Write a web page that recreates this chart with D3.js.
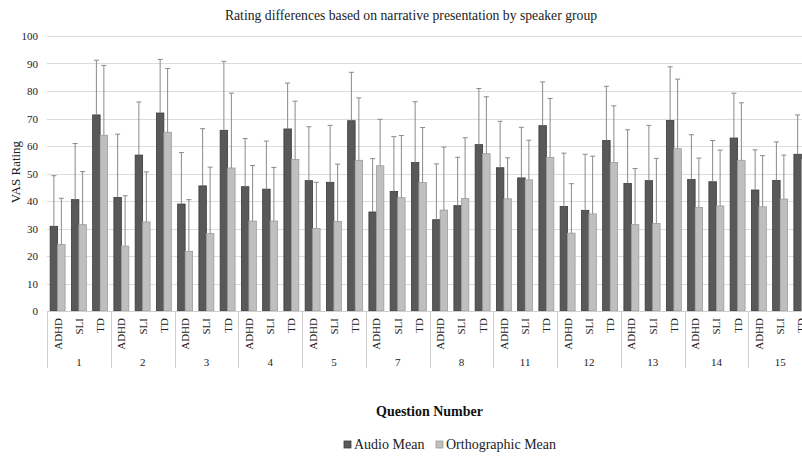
<!DOCTYPE html>
<html>
<head>
<meta charset="utf-8">
<script src="https://cdn.jsdelivr.net/npm/d3@7"></script>
<style>
  body { margin: 0; background: #fff; overflow: hidden; }
  svg { display: block; font-family: "Liberation Serif", "DejaVu Serif", serif; }
</style>
</head>
<body>
<svg id="chart" width="802" height="456"></svg>
<script>
// question numbers and speaker groups
var questions = ["1", "2", "3", "4", "5", "7", "8", "11", "12", "13", "14", "15"];
var groups = ["ADHD", "SLI", "TD"];
var seriesNames = ["Audio Mean", "Orthographic Mean"];

// means, in question order, ADHD/SLI/TD inside each question
var audioMean = [30.8, 40.5, 71.3, 41.3, 56.7, 72.0, 38.9, 45.5, 65.7, 45.2, 44.3, 66.2,
                 47.4, 46.8, 69.2, 36.0, 43.5, 54.0, 33.2, 38.3, 60.5, 52.1, 48.4, 67.4,
                 38.0, 36.6, 62.0, 46.4, 47.4, 69.3, 47.8, 47.0, 62.9, 44.0, 47.5, 57.0];
var orthoMean = [24.2, 31.4, 63.9, 23.6, 32.4, 65.0, 21.7, 28.2, 52.0, 32.7, 32.7, 55.1,
                 30.0, 32.6, 54.8, 52.8, 41.2, 46.7, 36.7, 40.9, 57.2, 40.8, 47.7, 55.8,
                 28.3, 35.3, 54.0, 31.4, 31.8, 59.0, 37.7, 38.2, 54.8, 37.9, 40.7, 55.2];
// standard deviations (upper error bars)
var audioSD = [18.4, 20.4, 19.9, 23.0, 19.3, 19.5, 18.7, 20.8, 25.1, 17.5, 17.5, 16.7,
               19.6, 20.7, 17.6, 19.4, 19.9, 22.1, 20.3, 17.6, 20.4, 16.9, 18.4, 15.9,
               19.4, 20.4, 19.7, 19.5, 20.1, 19.5, 16.3, 15.0, 16.3, 14.6, 14.0, 14.3];
var orthoSD = [16.8, 19.3, 25.4, 18.3, 18.2, 23.2, 18.8, 24.1, 27.2, 20.2, 19.5, 21.2,
               16.8, 20.8, 22.7, 16.9, 22.6, 20.0, 22.9, 22.1, 20.7, 14.9, 14.4, 21.5,
               18.0, 21.0, 20.6, 20.4, 23.7, 25.3, 17.9, 20.3, 20.9, 18.6, 16.0, 20.3];
var yTicks = [0, 10, 20, 30, 40, 50, 60, 70, 80, 90, 100];

var colors = { "Audio Mean": "#595959", "Orthographic Mean": "#bfbfbf" };
var strokes = { "Audio Mean": "#3c3c3c", "Orthographic Mean": "#9c9c9c" };

var svg = d3.select("#chart");

/* ---------- scales ---------- */
// plot runs past the right edge of the window, like the original
var plotLeft = 47, plotRight = 812, plotTop = 36, plotBottom = 311;

var cats = [];
questions.forEach(function(q) {
  groups.forEach(function(g) { cats.push(q + "|" + g); });
});

var x = d3.scaleBand().domain(cats).range([plotLeft, plotRight]).padding(0);
var xq = d3.scaleBand().domain(questions).range([plotLeft, plotRight]).padding(0);
var xs = d3.scaleBand().domain(seriesNames).range([0, x.bandwidth()]).paddingInner(0).paddingOuter(0.42);
var y = d3.scaleLinear().domain([0, 100]).range([plotBottom, plotTop]);

var rows = cats.map(function(c, i) {
  return {
    cat: c,
    values: [
      { s: "Audio Mean", v: audioMean[i], sd: audioSD[i] },
      { s: "Orthographic Mean", v: orthoMean[i], sd: orthoSD[i] }
    ]
  };
});

/* ---------- grid + y axis ---------- */
svg.append("g").selectAll("line").data(yTicks).enter().append("line")
  .attr("x1", plotLeft).attr("x2", plotRight)
  .attr("y1", function(d) { return Math.round(y(d)) + 0.5; })
  .attr("y2", function(d) { return Math.round(y(d)) + 0.5; })
  .attr("stroke", "#dcdcdc").attr("stroke-width", 1);

var yAxis = svg.append("g").attr("transform", "translate(" + plotLeft + ",0)")
  .call(d3.axisLeft(y).tickValues(yTicks).tickSize(0).tickPadding(9));
yAxis.select(".domain").remove();
yAxis.selectAll("text").attr("font-size", 11).attr("fill", "#222")
  .attr("font-family", "Liberation Serif");

/* ---------- bars ---------- */
var catG = svg.append("g").selectAll("g").data(rows).enter().append("g")
  .attr("transform", function(d) { return "translate(" + x(d.cat) + ",0)"; });

catG.selectAll("rect").data(function(d) { return d.values; }).enter().append("rect")
  .attr("x", function(d) { return xs(d.s); })
  .attr("width", xs.bandwidth())
  .attr("y", function(d) { return y(d.v); })
  .attr("height", function(d) { return y(0) - y(d.v); })
  .attr("fill", function(d) { return colors[d.s]; })
  .attr("stroke", function(d) { return strokes[d.s]; })
  .attr("stroke-width", 0.8);

// error bars, upper half only
var err = catG.selectAll("g.err").data(function(d) { return d.values; }).enter().append("g")
  .attr("class", "err")
  .attr("stroke", "#8a8a8a").attr("stroke-width", 1);
err.append("line")
  .attr("x1", function(d) { return xs(d.s) + xs.bandwidth() / 2; })
  .attr("x2", function(d) { return xs(d.s) + xs.bandwidth() / 2; })
  .attr("y1", function(d) { return y(d.v); })
  .attr("y2", function(d) { return y(d.v + d.sd); });
err.append("line")
  .attr("x1", function(d) { return xs(d.s) + xs.bandwidth() / 2 - 2.5; })
  .attr("x2", function(d) { return xs(d.s) + xs.bandwidth() / 2 + 2.5; })
  .attr("y1", function(d) { return y(d.v + d.sd); })
  .attr("y2", function(d) { return y(d.v + d.sd); });

/* ---------- x axis: groups + questions ---------- */
svg.append("line").attr("x1", plotLeft).attr("x2", plotRight)
  .attr("y1", plotBottom + 0.5).attr("y2", plotBottom + 0.5)
  .attr("stroke", "#cfcfcf");

var bounds = questions.map(function(q) { return xq(q); }).concat([plotRight]);
svg.append("g").selectAll("line").data(bounds).enter().append("line")
  .attr("x1", function(d) { return Math.round(d) + 0.5; })
  .attr("x2", function(d) { return Math.round(d) + 0.5; })
  .attr("y1", plotBottom).attr("y2", 368)
  .attr("stroke", "#cfcfcf");

svg.append("g").selectAll("text").data(cats).enter().append("text")
  .attr("transform", function(d) {
    return "translate(" + (x(d) + x.bandwidth() / 2 + 4) + ",318) rotate(-90)";
  })
  .attr("text-anchor", "end")
  .attr("font-size", 11).attr("fill", "#222")
  .text(function(d) { return d.split("|")[1]; });

svg.append("g").selectAll("text").data(questions).enter().append("text")
  .attr("x", function(d) { return xq(d) + xq.bandwidth() / 2; })
  .attr("y", 366)
  .attr("text-anchor", "middle")
  .attr("font-size", 11).attr("fill", "#222")
  .text(function(d) { return d; });

/* ---------- titles ---------- */
svg.append("text").attr("x", 411).attr("y", 20)
  .attr("text-anchor", "middle").attr("font-size", 13.7).attr("fill", "#222")
  .text("Rating differences based on narrative presentation by speaker group");

svg.append("text").attr("transform", "translate(20,172) rotate(-90)")
  .attr("text-anchor", "middle").attr("font-size", 13).attr("fill", "#222")
  .text("VAS Rating");

svg.append("text").attr("x", (plotLeft + plotRight) / 2).attr("y", 416)
  .attr("text-anchor", "middle").attr("font-size", 14).attr("font-weight", "bold")
  .attr("fill", "#111")
  .text("Question Number");

/* ---------- legend ---------- */
var legend = svg.append("g").attr("transform", "translate(344,444)");
var lx = [0, 92];
seriesNames.forEach(function(s, i) {
  legend.append("rect").attr("x", lx[i]).attr("y", -3).attr("width", 7).attr("height", 7)
    .attr("fill", colors[s]).attr("stroke", strokes[s]).attr("stroke-width", 0.8);
  legend.append("text").attr("x", lx[i] + 10).attr("y", 5)
    .attr("font-size", 14).attr("fill", "#222")
    .text(s);
});
</script>
</body>
</html>
